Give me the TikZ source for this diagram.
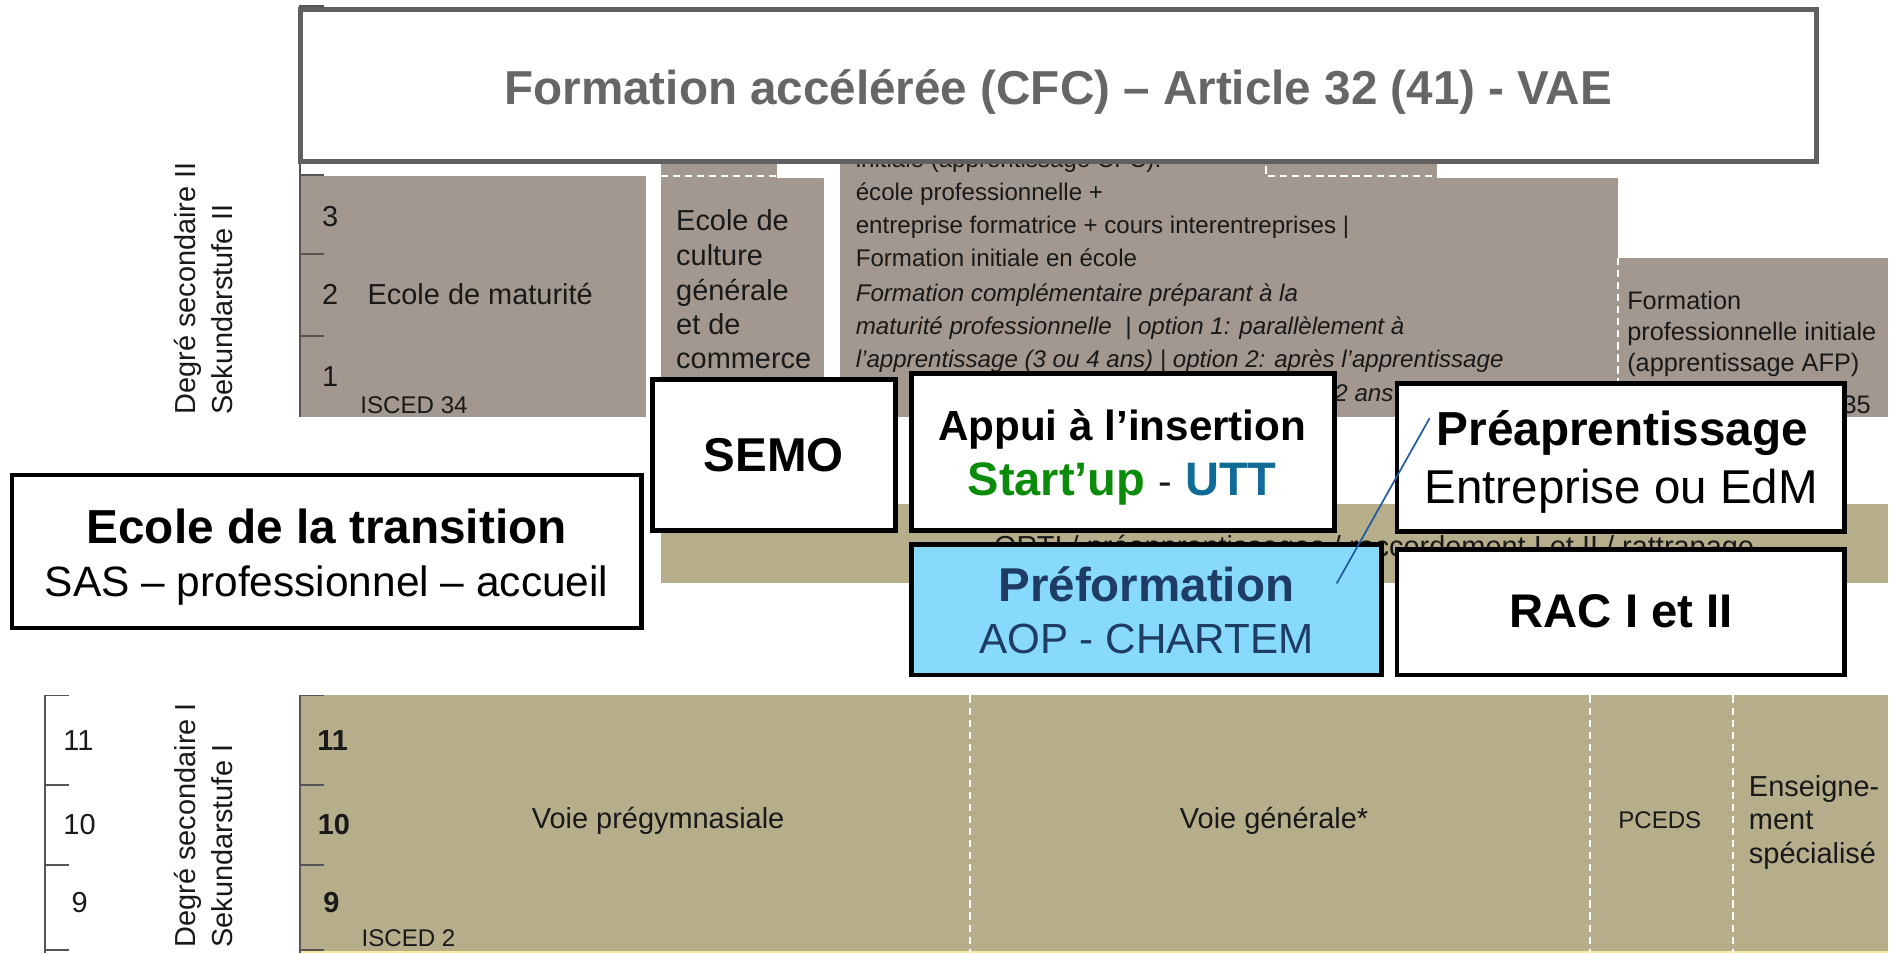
\documentclass[tikz,border=0pt]{standalone}
\usepackage{fontspec}
\setmainfont{Liberation Sans}
\newcommand\fsz[1]{\fontsize{#1pt}{#1pt}\selectfont}
\definecolor{gbox}{RGB}{162,152,143}
\definecolor{khaki}{RGB}{182,173,139}
\definecolor{cfcgray}{RGB}{96,96,96}
\definecolor{cfctext}{RGB}{102,102,102}
\definecolor{lblue}{RGB}{135,218,252}
\definecolor{navy}{RGB}{30,60,100}
\definecolor{sgreen}{RGB}{10,140,10}
\definecolor{ublue}{RGB}{16,108,150}
\definecolor{lineblue}{RGB}{31,90,160}
\definecolor{ylw}{RGB}{248,232,160}
\definecolor{axisc}{RGB}{85,85,85}
\definecolor{ink}{RGB}{25,25,25}
\begin{document}
\begin{tikzpicture}[x=0.5pt,y=-0.5pt,
  txt/.style={inner sep=0pt,outer sep=0pt,text=ink},
  fgbox/.style={draw=black,line width=2pt,fill=white,inner sep=0pt,outer sep=0pt},
  wdash/.style={draw=white,line width=0.8pt,dash pattern=on 3pt off 2pt},
  axisline/.style={draw=axisc,line width=0.8pt}]
\useasboundingbox (0,0) rectangle (1568,791);
\fill[white] (0,0) rectangle (1568,791);

% ---------- upper (secondary II) blocks ----------
\fill[gbox] (249,146) rectangle (536,346);
\fill[gbox] (548,128) rectangle (645,148);
\fill[gbox] (548,148) rectangle (684,346);
\fill[gbox] (697,128) rectangle (1192,148);
\fill[gbox] (697,148) rectangle (1342,346);
\fill[gbox] (1342,214) rectangle (1566,346);
\draw[wdash] (548,146) -- (645,146);
\draw[wdash] (1050,128) -- (1050,146) -- (1192,146);
\draw[wdash] (1342,214) -- (1342,346);

% axis upper
\draw[axisline] (249,4) -- (249,346);
\foreach \yy in {5,145,211,279} \draw[axisline] (249,\yy) -- (269,\yy);

\node[txt,rotate=90,anchor=west,font=\fsz{12}] (deg2) at (156,344) {Degré secondaire II};
\node[txt,rotate=90,anchor=west,font=\fsz{12}] (sek2) at (184,344) {Sekundarstufe II};

\node[txt,anchor=base,font=\fsz{12}] (u3) at (274,188) {3};
\node[txt,anchor=base,font=\fsz{12}] (u2) at (274,253) {2};
\node[txt,anchor=base,font=\fsz{12}] (u1) at (274,321) {1};
\node[txt,anchor=base west,font=\fsz{12}] (mat) at (305,253) {Ecole de maturité};
\node[txt,anchor=base west,font=\fsz{10}] (isc34) at (299,343) {ISCED 34};

\node[txt,anchor=base west,font=\fsz{12}] (ecg1) at (561,191) {Ecole de};
\node[txt,anchor=base west,font=\fsz{12}] (ecg2) at (561,220) {culture};
\node[txt,anchor=base west,font=\fsz{12}] (ecg3) at (561,249) {générale};
\node[txt,anchor=base west,font=\fsz{12}] (ecg4) at (561,277.5) {et de};
\node[txt,anchor=base west,font=\fsz{12}] (ecg5) at (561,306) {commerce};

\node[txt,anchor=base west,font=\fsz{10}] (fp0) at (710,139) {initiale (apprentissage CFC):};
\node[txt,anchor=base west,font=\fsz{10}] (fp1) at (710,166) {école professionnelle +};
\node[txt,anchor=base west,font=\fsz{10}] (fp2) at (710,193.5) {entreprise formatrice + cours interentreprises |};
\node[txt,anchor=base west,font=\fsz{10}] (fp3) at (710,221) {Formation initiale en école};
\node[txt,anchor=base west,font=\fsz{10}\itshape] (fp4) at (710,250) {Formation complémentaire préparant à la};
\node[txt,anchor=base west,font=\fsz{10}\itshape] (fp5) at (710,277.5) {maturité professionnelle \ | option 1: parallèlement à};
\node[txt,anchor=base west,font=\fsz{10}\itshape] (fp6) at (710,305) {l'apprentissage (3 ou 4 ans) | option 2: après l'apprentissage};
\node[txt,anchor=base east,font=\fsz{10}\itshape] (fp7) at (1156,333) {2 ans};

\node[txt,anchor=base west,font=\fsz{10.5}] (afp1) at (1350,257) {Formation};
\node[txt,anchor=base west,font=\fsz{10.5}] (afp2) at (1350,282.5) {professionnelle initiale};
\node[txt,anchor=base west,font=\fsz{10.5}] (afp3) at (1350,308) {(apprentissage AFP)};
\node[txt,anchor=base east,font=\fsz{10.5}] (isc35) at (1552,343) {35};

% ---------- top box ----------
\node[draw=cfcgray,line width=2pt,fill=white,inner sep=0pt,minimum width=629pt,minimum height=63pt] (cfc) at (878,71) {};
\node[txt,anchor=base,text=cfctext,font=\fsz{19.75}\bfseries] (cfct) at (878,87) {Formation accélérée (CFC) – Article 32 (41) - VAE};

% ---------- ORTI strip ----------
\fill[khaki] (548,418) rectangle (1566,484);
\node[txt,anchor=base,font=\fsz{12}] (orti) at (1140,462) {ORTI / préapprentissages / raccordement I et II / rattrapage};

% ---------- lower (secondary I) ----------
\fill[khaki] (249,577) rectangle (1566,789);
\fill[ylw] (249,789) rectangle (1566,791);
\foreach \xx in {805,1319,1438} \draw[wdash] (\xx,577) -- (\xx,791);
\draw[axisline] (249,577) -- (249,791);
\foreach \yy in {577,651,718,788} \draw[axisline] (249,\yy) -- (269,\yy);
\draw[axisline] (37,577) -- (37,791);
\foreach \yy in {577,651,718,788} \draw[axisline] (37,\yy) -- (57,\yy);

\node[txt,anchor=base,font=\fsz{12}] (l11) at (65,623) {11};
\node[txt,anchor=base,font=\fsz{12}] (l10) at (66,692) {10};
\node[txt,anchor=base,font=\fsz{12}] (l9) at (66,757) {9};
\node[txt,rotate=90,anchor=west,font=\fsz{12}] (deg1) at (156,786) {Degré secondaire I};
\node[txt,rotate=90,anchor=west,font=\fsz{12}] (sek1) at (184,786) {Sekundarstufe I};

\node[txt,anchor=base,font=\fsz{12}\bfseries] (b11) at (276,623) {11};
\node[txt,anchor=base,font=\fsz{12}\bfseries] (b10) at (277,692) {10};
\node[txt,anchor=base,font=\fsz{12}\bfseries] (b9) at (275,757) {9};
\node[txt,anchor=base west,font=\fsz{10}] (isc2) at (300,785) {ISCED 2};
\node[txt,anchor=base,font=\fsz{12}] (vpg) at (546,687) {Voie prégymnasiale};
\node[txt,anchor=base,font=\fsz{12}] (vg) at (1057,687) {Voie générale*};
\node[txt,anchor=base,font=\fsz{10}] (pceds) at (1377,687) {PCEDS};
\node[txt,anchor=base west,font=\fsz{12}] (ens1) at (1451,661) {Enseigne-};
\node[txt,anchor=base west,font=\fsz{12}] (ens2) at (1451,688.5) {ment};
\node[txt,anchor=base west,font=\fsz{12}] (ens3) at (1451,716) {spécialisé};

% ---------- foreground boxes ----------
\node[fgbox,minimum width=261pt,minimum height=63.5pt] (trans) at (271,457.5) {};
\node[txt,anchor=base,text=black,font=\fsz{19.8}\bfseries] (transt) at (271,451) {Ecole de la transition};
\node[txt,anchor=base,text=black,font=\fsz{17.6}] (transs) at (271,495) {SAS – professionnel – accueil};

\node[fgbox,minimum width=101pt,minimum height=62.5pt] (semo) at (642,377.5) {};
\node[txt,anchor=base,text=black,font=\fsz{19.7}\bfseries] (semot) at (642,391) {SEMO};

\node[fgbox,minimum width=175.5pt,minimum height=65pt] (appui) at (931.5,375) {};
\node[txt,anchor=base,text=black,font=\fsz{17.5}\bfseries] (appuit) at (931,365.5) {Appui à l’insertion};
\node[txt,anchor=base,font=\fsz{19.5}\bfseries] (appuis) at (931,411) {\textcolor{sgreen}{Start’up} {\fsz{17}\mdseries\textcolor{ink}{-}} \textcolor{ublue}{UTT}};

\node[fgbox,minimum width=185.5pt,minimum height=61.5pt] (preap) at (1344.5,379.5) {};
\node[txt,anchor=base,text=black,font=\fsz{19.8}\bfseries] (preapt) at (1346,370) {Préaprentissage};
\node[txt,anchor=base,text=black,font=\fsz{19.7}] (preaps) at (1345,418) {Entreprise ou EdM};

\node[fgbox,fill=lblue,minimum width=195pt,minimum height=54pt] (prefo) at (951,506) {};
\node[txt,anchor=base,text=navy,font=\fsz{19.7}\bfseries] (prefot) at (951,499) {Préformation};
\node[txt,anchor=base,text=navy,font=\fsz{17.5}] (prefos) at (951,542) {AOP - CHARTEM};

\node[fgbox,minimum width=185.5pt,minimum height=52pt] (rac) at (1344.5,508) {};
\node[txt,anchor=base,text=black,font=\fsz{19.6}\bfseries] (ract) at (1345,521) {RAC I et II};

% ---------- thin blue connector ----------
\coordinate (bl1) at (1186,347);
\coordinate (bl2) at (1109,484);
\draw[lineblue,line width=0.7pt] (bl1) -- (bl2);
\end{tikzpicture}
\end{document}
